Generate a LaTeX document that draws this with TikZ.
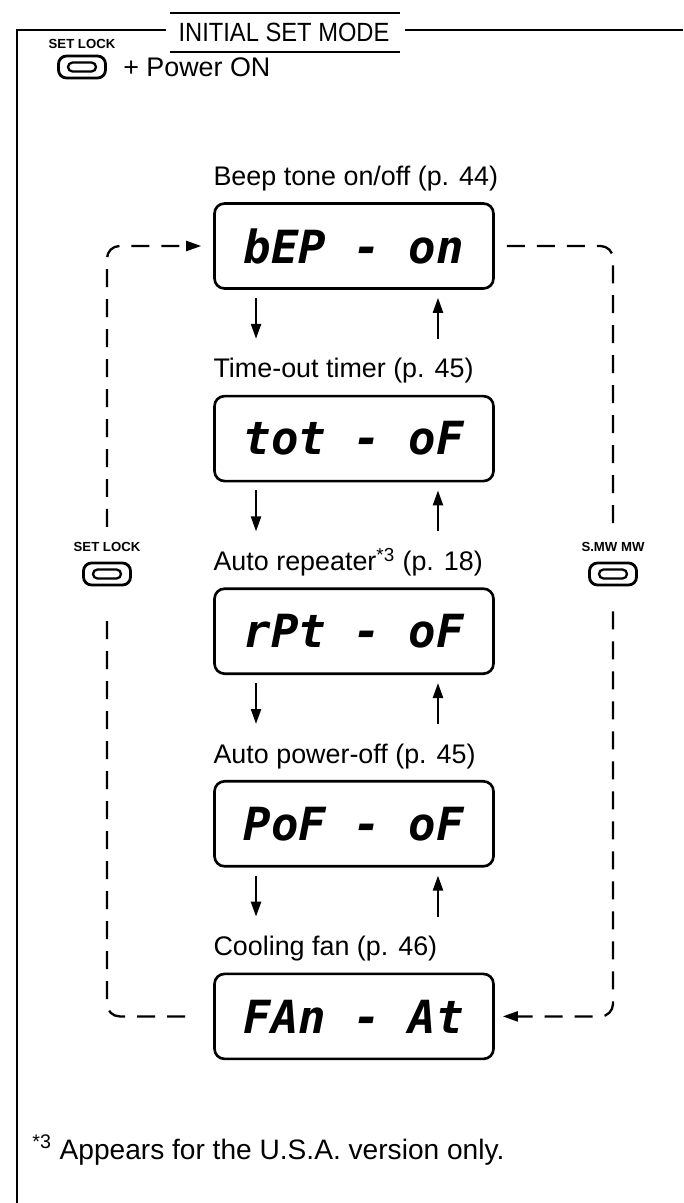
\documentclass[tikz,border=0pt]{standalone}
\usepackage{fontspec}
\setmainfont{Liberation Sans}
\newfontfamily\lcdfont{DejaVu Sans Mono}
\newfontfamily\titlefont{Liberation Sans}[FakeStretch=0.9]
\usepackage{tikz}
\usetikzlibrary{calc,positioning,arrows.meta}

\begin{document}
\begin{tikzpicture}[
        x=0.02cm, y=-0.02cm,
        lcd/.style={rectangle, rounded corners=0.2cm, draw, line width=1.5pt, minimum width=5.58cm, minimum height=1.7cm, inner sep=0pt, font=\lcdfont\bfseries\itshape\fontsize{26}{28}\selectfont},
        lbl/.style={anchor=west, inner sep=0pt, font=\fontsize{15.3}{18}\selectfont},
        title/.style={inner sep=0pt, font=\titlefont\fontsize{15}{18}\selectfont},
        keycap/.style={rectangle, rounded corners=0.16cm, draw, line width=1.6pt, minimum width=0.94cm, minimum height=0.44cm, inner sep=0pt,
            path picture={\draw[line width=1.3pt, rounded corners=0.09cm] ($(path picture bounding box.center)+(-14,-4.5)$) rectangle ($(path picture bounding box.center)+(14,4.5)$);}},
        keylbl/.style={inner sep=0pt, font=\bfseries\fontsize{7.5}{8}\selectfont},
        steparrow/.style={line width=1.3pt, -{Triangle[length=0.3cm, width=0.2cm]}},
        loopline/.style={dash pattern=on 0.36cm off 0.24cm, line width=1.3pt, rounded corners=0.25cm},
        frame/.style={line width=1.1pt}
    ]
        \useasboundingbox (0,0) rectangle (683,1203);

        % Frame and title
        \node[title] (title) at (284,32) {INITIAL SET MODE};
        \draw[frame] (17,1203) -- (17,30) -- (166,30);
        \draw[frame] (405,30) -- (683,30);
        \draw[frame] (170,13) -- (400,13) (170,52) -- (400,52);

        % Power on
        \node[keylbl] (toplbl) at (82,44) {SET LOCK};
        \node[keycap] (topkey) at (82,67) {};
        \node[lbl, right=0.32cm of topkey] (pwr) {+ Power ON};

        % Displays
        \node[lcd] (b1) at (354,246) {bEP - on};
        \node[lcd, below=2.1cm of b1] (b2) {tot - oF};
        \node[lcd, below=2.1cm of b2] (b3) {rPt - oF};
        \node[lcd, below=2.1cm of b3] (b4) {PoF - oF};
        \node[lcd, below=2.1cm of b4] (b5) {FAn - At};

        \node[lbl, above right=0.22cm and 0cm of b1.north west] (l1) {Beep tone on/off (p. 44)};
        \node[lbl, above right=0.22cm and 0cm of b2.north west] (l2) {Time-out timer (p. 45)};
        \node[lbl, above right=0.22cm and 0cm of b3.north west] (l3) {Auto repeater\textsuperscript{*3} (p. 18)};
        \node[lbl, above right=0.22cm and 0cm of b4.north west] (l4) {Auto power-off (p. 45)};
        \node[lbl, above right=0.22cm and 0cm of b5.north west] (l5) {Cooling fan (p. 46)};

        % Steps between displays
        \foreach \i in {1,...,4} {
            \draw[steparrow] ([xshift=-1.96cm, yshift=-0.16cm]b\i.south) -- ++(0,41);
            \draw[steparrow] ([xshift=1.68cm, yshift=-0.98cm]b\i.south) -- ++(0,-41);
        }

        % Keys on the loops
        \node[keylbl] (setlbl) at (107,547) {SET LOCK};
        \node[keycap] (setkey) at (107,574) {};
        \node[keylbl] (mwlbl) at (613,547) {S.MW MW};
        \node[keycap] (mwkey) at (613,574) {};

        \draw[loopline, shorten <=0.56cm, shorten >=0.5cm] (b5.west) -| (setkey.south);
        \draw[loopline, -{Triangle[length=0.3cm, width=0.2cm]}, shorten <=0.3cm, shorten >=0.24cm] (setlbl.north) |- (b1.west);
        \draw[loopline, shorten <=0.24cm, shorten >=0.3cm] (b1.east) -| (mwlbl.north);
        \draw[loopline, -{Triangle[length=0.3cm, width=0.2cm]}, shorten <=0.5cm, shorten >=0.16cm] (mwkey.south) |- (b5.east);

        % Footnote
        \node[lbl, font=\fontsize{16}{19}\selectfont] (note) at (32,1150) {\textsuperscript{*3} Appears for the U.S.A. version only.};
\end{tikzpicture}
\end{document}
